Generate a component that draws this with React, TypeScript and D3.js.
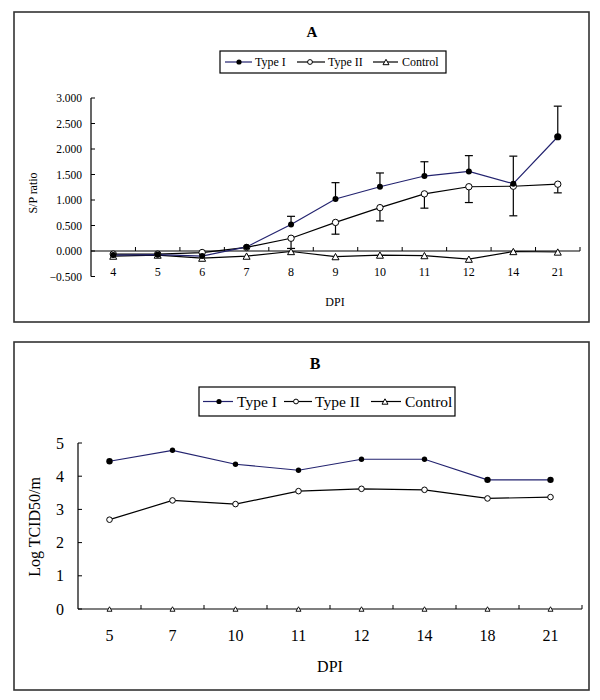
import React from "react";
import * as d3 from "d3";

// Panel A data
const catsA = ["4", "5", "6", "7", "8", "9", "10", "11", "12", "14", "21"];
const typeIA = [-0.08, -0.07, -0.1, 0.08, 0.52, 1.02, 1.26, 1.47, 1.56, 1.32, 2.24];
const typeIIA = [-0.06, -0.06, -0.03, 0.07, 0.25, 0.56, 0.85, 1.12, 1.26, 1.27, 1.31];
const controlA = [-0.1, -0.08, -0.14, -0.1, -0.01, -0.11, -0.08, -0.09, -0.16, -0.01, -0.02];
const errIPlusA = [0, 0, 0, 0, 0.16, 0.32, 0.27, 0.28, 0.31, 0.54, 0.6];
const errIIMinusA = [0, 0, 0, 0, 0.2, 0.23, 0.26, 0.28, 0.31, 0.58, 0.17];
const ticksA = [-0.5, 0, 0.5, 1, 1.5, 2, 2.5, 3];

// Panel B data
const catsB = ["5", "7", "10", "11", "12", "14", "18", "21"];
const typeIB = [4.45, 4.78, 4.36, 4.18, 4.51, 4.51, 3.89, 3.89];
const typeIIB = [2.69, 3.27, 3.16, 3.55, 3.62, 3.59, 3.33, 3.37];
const controlB = [0, 0, 0, 0, 0, 0, 0, 0];
const ticksB = [0, 1, 2, 3, 4, 5];

const NAVY = "#23236f";
const FONT = "'Liberation Serif', 'Times New Roman', serif";

function Triangle({ x, y, s, sw = 1 }: { x: number; y: number; s: number; sw?: number }) {
  const h = s * 0.9;
  return (
    <path
      d={`M${x},${y - h / 2}L${x + s / 2},${y + h / 2}L${x - s / 2},${y + h / 2}Z`}
      fill="white"
      stroke="black"
      strokeWidth={sw}
    />
  );
}

function Legend({ x, y, w, h, fs, items }: any) {
  return (
    <g>
      <rect x={x} y={y} width={w} height={h} fill="white" stroke="black" strokeWidth={1.2} />
      {items.map((it: any, i: number) => {
        const cy = y + h / 2;
        return (
          <g key={i}>
            <line x1={it.l1} x2={it.l2} y1={cy} y2={cy} stroke={it.color} strokeWidth={1.2} />
            {it.kind === "filled" && <circle cx={it.m} cy={cy} r={2.6} fill="black" />}
            {it.kind === "open" && <circle cx={it.m} cy={cy} r={2.4} fill="white" stroke="black" />}
            {it.kind === "tri" && <Triangle x={it.m} y={cy} s={6} />}
            <text x={it.t} y={cy} dy="0.35em" fontSize={fs} fontFamily={FONT}>
              {it.label}
            </text>
          </g>
        );
      })}
    </g>
  );
}

function PanelA() {
  const x = d3.scaleBand().domain(catsA).range([91, 580]);
  const y = d3.scaleLinear().domain([-0.5, 3]).range([276.5, 98]);
  const cx = (c: string) => (x(c) as number) + x.bandwidth() / 2;
  const line = d3
    .line<number>()
    .x((_, i) => cx(catsA[i]))
    .y((d) => y(d));
  const y0 = y(0);
  const bounds = d3.range(catsA.length + 1).map((i) => 91 + i * x.bandwidth());
  return (
    <g>
      <rect x={14} y={12} width={575} height={310} fill="white" stroke="#333" strokeWidth={1.6} />
      <text x={312} y={37} textAnchor="middle" fontWeight="bold" fontSize={15} fontFamily={FONT}>
        A
      </text>
      <Legend
        x={220}
        y={51}
        w={226}
        h={22}
        fs={12}
        items={[
          { l1: 225, l2: 252, m: 239, t: 255, label: "Type I", kind: "filled", color: NAVY },
          { l1: 297, l2: 325, m: 310, t: 328, label: "Type II", kind: "open", color: "black" },
          { l1: 373, l2: 398, m: 386, t: 402, label: "Control", kind: "tri", color: "black" },
        ]}
      />
      {/* y axis */}
      <line x1={91} x2={91} y1={y(3)} y2={y(-0.5)} stroke="black" strokeWidth={1.2} />
      {ticksA.map((t) => (
        <g key={t}>
          <line x1={91} x2={95} y1={y(t)} y2={y(t)} stroke="black" />
          <text x={82} y={y(t)} dy="0.35em" textAnchor="end" fontSize={11.5} fontFamily={FONT}>
            {d3.format(".3f")(t)}
          </text>
        </g>
      ))}
      <text
        transform={`translate(37,193) rotate(-90)`}
        textAnchor="middle"
        fontSize={12}
        fontFamily={FONT}
      >
        S/P ratio
      </text>
      {/* x axis */}
      <line x1={91} x2={580} y1={y0} y2={y0} stroke="black" strokeWidth={1.2} />
      {bounds.slice(1).map((b, i) => (
        <line key={i} x1={b} x2={b} y1={y0} y2={y0 - 4} stroke="black" />
      ))}
      {catsA.map((c) => (
        <text key={c} x={cx(c)} y={276} textAnchor="middle" fontSize={12} fontFamily={FONT}>
          {c}
        </text>
      ))}
      <text x={335} y={306} textAnchor="middle" fontSize={12} fontFamily={FONT}>
        DPI
      </text>
      <path d={line(controlA) || ""} fill="none" stroke="black" strokeWidth={1.2} />
      <path d={line(typeIIA) || ""} fill="none" stroke="black" strokeWidth={1.2} />
      <path d={line(typeIA) || ""} fill="none" stroke={NAVY} strokeWidth={1.2} />
      {catsA.map((c, i) =>
        errIPlusA[i] > 0 ? (
          <g key={"e1" + c}>
            <line x1={cx(c)} x2={cx(c)} y1={y(typeIA[i])} y2={y(typeIA[i] + errIPlusA[i])} stroke="black" strokeWidth={1.2} />
            <line x1={cx(c) - 4} x2={cx(c) + 4} y1={y(typeIA[i] + errIPlusA[i])} y2={y(typeIA[i] + errIPlusA[i])} stroke="black" strokeWidth={1.2} />
          </g>
        ) : null
      )}
      {catsA.map((c, i) =>
        errIIMinusA[i] > 0 ? (
          <g key={"e2" + c}>
            <line x1={cx(c)} x2={cx(c)} y1={y(typeIIA[i])} y2={y(typeIIA[i] - errIIMinusA[i])} stroke="black" strokeWidth={1.2} />
            <line x1={cx(c) - 4} x2={cx(c) + 4} y1={y(typeIIA[i] - errIIMinusA[i])} y2={y(typeIIA[i] - errIIMinusA[i])} stroke="black" strokeWidth={1.2} />
          </g>
        ) : null
      )}
      {catsA.map((c, i) => (
        <Triangle key={"t" + c} x={cx(c)} y={y(controlA[i])} s={7} />
      ))}
      {catsA.map((c, i) => (
        <circle key={"o" + c} cx={cx(c)} cy={y(typeIIA[i])} r={3.2} fill="white" stroke="black" strokeWidth={1} />
      ))}
      {catsA.map((c, i) => (
        <circle key={"f" + c} cx={cx(c)} cy={y(typeIA[i])} r={i === catsA.length - 1 ? 3.6 : 3} fill="black" />
      ))}
    </g>
  );
}

function PanelB() {
  const x = d3.scaleBand().domain(catsB).range([78, 582]);
  const y = d3.scaleLinear().domain([0, 5]).range([609, 443]);
  const cx = (c: string) => (x(c) as number) + x.bandwidth() / 2;
  const line = d3
    .line<number>()
    .x((_, i) => cx(catsB[i]))
    .y((d) => y(d));
  const y0 = y(0);
  const bounds = d3.range(catsB.length + 1).map((i) => 78 + i * x.bandwidth());
  return (
    <g>
      <rect x={14} y={342} width={575} height={348} fill="white" stroke="#333" strokeWidth={1.6} />
      <text x={315} y={369} textAnchor="middle" fontWeight="bold" fontSize={16} fontFamily={FONT}>
        B
      </text>
      <Legend
        x={199}
        y={387}
        w={256}
        h={29}
        fs={15.5}
        items={[
          { l1: 203, l2: 233, m: 219, t: 237, label: "Type I", kind: "filled", color: NAVY },
          { l1: 284, l2: 312, m: 296, t: 315, label: "Type II", kind: "open", color: "black" },
          { l1: 371, l2: 401, m: 385, t: 405, label: "Control", kind: "tri", color: "black" },
        ]}
      />
      <line x1={78} x2={78} y1={y(5)} y2={y(0)} stroke="black" strokeWidth={1.2} />
      {ticksB.map((t) => (
        <g key={t}>
          <line x1={78} x2={82} y1={y(t)} y2={y(t)} stroke="black" />
          <text x={64} y={y(t)} dy="0.35em" textAnchor="end" fontSize={16} fontFamily={FONT}>
            {t}
          </text>
        </g>
      ))}
      <text
        transform={`translate(40,527) rotate(-90)`}
        textAnchor="middle"
        fontSize={16}
        fontFamily={FONT}
      >
        Log TCID50/m
      </text>
      <line x1={78} x2={582} y1={y0} y2={y0} stroke="black" strokeWidth={1.2} />
      {bounds.slice(1).map((b, i) => (
        <line key={i} x1={b} x2={b} y1={y0} y2={y0 - 4} stroke="black" />
      ))}
      {catsB.map((c) => (
        <text key={c} x={cx(c)} y={641} textAnchor="middle" fontSize={16} fontFamily={FONT}>
          {c}
        </text>
      ))}
      <text x={330} y={672} textAnchor="middle" fontSize={16} fontFamily={FONT}>
        DPI
      </text>
      <path d={line(typeIIB) || ""} fill="none" stroke="black" strokeWidth={1.2} />
      <path d={line(typeIB) || ""} fill="none" stroke={NAVY} strokeWidth={1.2} />
      {catsB.map((c, i) => (
        <Triangle key={"t" + c} x={cx(c)} y={y(controlB[i])} s={5} sw={0.9} />
      ))}
      {catsB.map((c, i) => (
        <circle key={"o" + c} cx={cx(c)} cy={y(typeIIB[i])} r={2.8} fill="white" stroke="black" strokeWidth={1} />
      ))}
      {catsB.map((c, i) => (
        <circle key={"f" + c} cx={cx(c)} cy={y(typeIB[i])} r={i === 0 || i >= 6 ? 3.2 : 2.7} fill="black" />
      ))}
    </g>
  );
}

export default function App() {
  return (
    <svg
      width={600}
      height={700}
      style={{ position: "absolute", left: 0, top: 0, background: "white" }}
    >
      <rect width={600} height={700} fill="white" />
      <PanelA />
      <PanelB />
    </svg>
  );
}
